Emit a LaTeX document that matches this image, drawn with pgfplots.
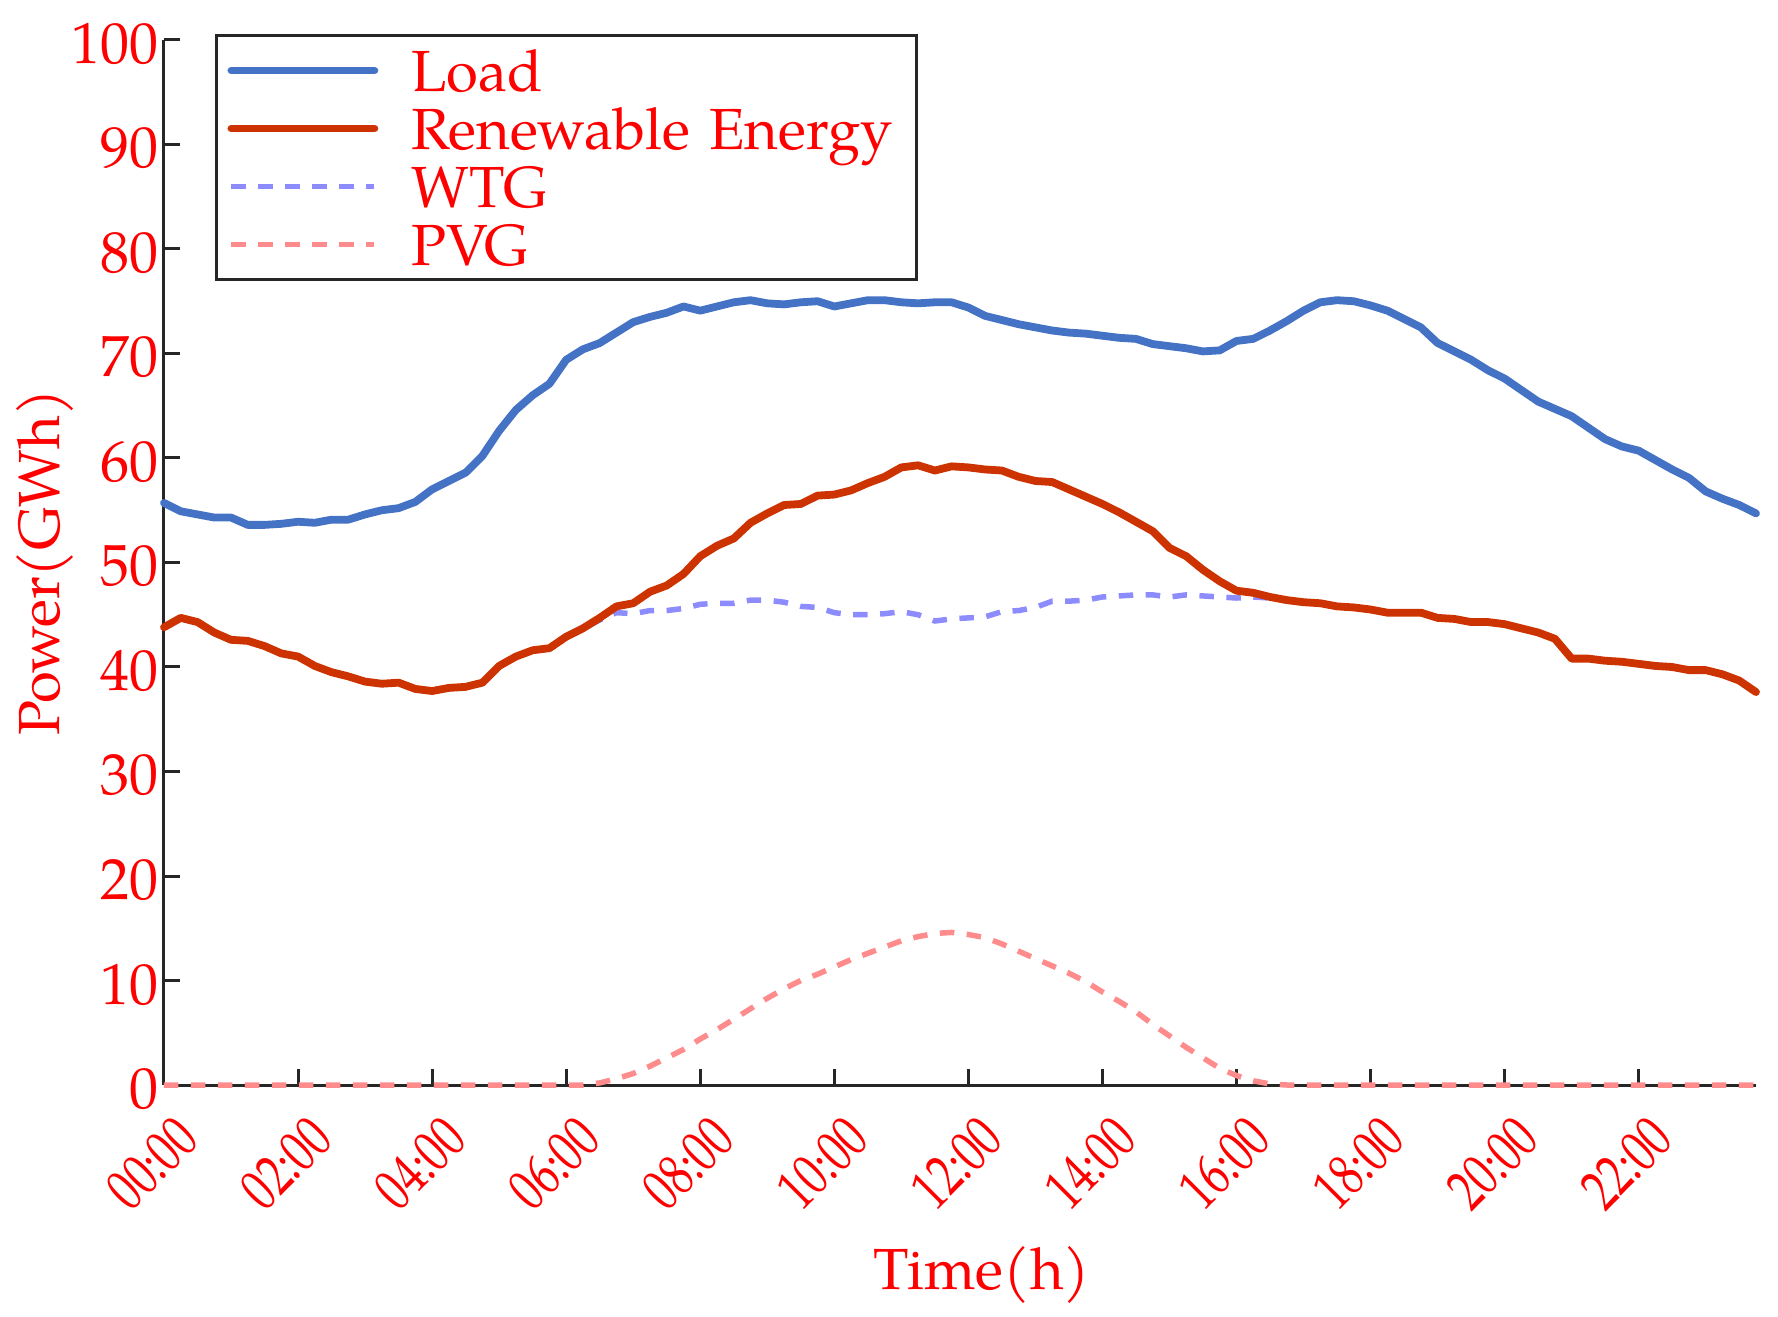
\documentclass[border=0pt]{standalone}
\usepackage{fontspec}
\setmainfont{TeX Gyre Pagella}
\newfontfamily\condfont[FakeStretch=0.76]{TeX Gyre Pagella}
\usepackage{pgfplots}
\pgfplotsset{compat=1.18}
\usepackage{pgfplotstable}
\definecolor{loadblue}{RGB}{68,114,196}
\definecolor{rered}{RGB}{204,51,0}
\definecolor{wtgc}{RGB}{140,140,255}
\definecolor{pvgc}{RGB}{255,140,140}
\definecolor{axisgray}{RGB}{38,38,38}
\definecolor{txtred}{RGB}{255,0,0}
\pgfplotstableread{
t load re wtg pvg
0 55.7 43.8 43.8 0
0.25 54.9 44.7 44.7 0
0.5 54.6 44.3 44.3 0
0.75 54.3 43.3 43.3 0
1 54.3 42.6 42.6 0
1.25 53.6 42.5 42.5 0
1.5 53.6 42.0 42.0 0
1.75 53.7 41.3 41.3 0
2 53.9 41.0 41.0 0
2.25 53.8 40.1 40.1 0
2.5 54.1 39.5 39.5 0
2.75 54.1 39.1 39.1 0
3 54.6 38.6 38.6 0
3.25 55.0 38.4 38.4 0
3.5 55.2 38.5 38.5 0
3.75 55.8 37.9 37.9 0
4 57.0 37.7 37.7 0
4.25 57.8 38.0 38.0 0
4.5 58.6 38.1 38.1 0
4.75 60.2 38.5 38.5 0
5 62.6 40.1 40.1 0
5.25 64.6 41.0 41.0 0
5.5 66.0 41.6 41.6 0
5.75 67.1 41.8 41.8 0
6 69.4 42.9 42.9 0
6.25 70.4 43.7 43.7 0
6.5 71.0 44.7 44.5 0.2
6.75 72.0 45.8 45.2 0.6
7 73.0 46.1 45.1 1.1
7.25 73.5 47.2 45.4 1.8
7.5 73.9 47.8 45.4 2.6
7.75 74.5 48.9 45.6 3.4
8 74.1 50.6 46.0 4.4
8.25 74.5 51.6 46.1 5.3
8.5 74.9 52.3 46.1 6.3
8.75 75.1 53.8 46.4 7.3
9 74.8 54.7 46.4 8.3
9.25 74.7 55.5 46.2 9.2
9.5 74.9 55.6 45.8 10.0
9.75 75.0 56.4 45.7 10.6
10 74.5 56.5 45.2 11.3
10.25 74.8 56.9 45.0 12.0
10.5 75.1 57.6 45.0 12.6
10.75 75.1 58.2 45.1 13.2
11 74.9 59.1 45.3 13.8
11.25 74.8 59.3 45.0 14.2
11.5 74.9 58.8 44.4 14.5
11.75 74.9 59.2 44.6 14.6
12 74.4 59.1 44.7 14.4
12.25 73.6 58.9 44.8 14.1
12.5 73.2 58.8 45.3 13.5
12.75 72.8 58.2 45.4 12.8
13 72.5 57.8 45.7 12.1
13.25 72.2 57.7 46.3 11.4
13.5 72.0 57.0 46.3 10.7
13.75 71.9 56.3 46.4 9.9
14 71.7 55.6 46.7 8.9
14.25 71.5 54.8 46.8 8.0
14.5 71.4 53.9 46.9 7.0
14.75 70.9 53.0 46.9 5.8
15 70.7 51.4 46.7 4.7
15.25 70.5 50.6 46.9 3.6
15.5 70.2 49.3 46.8 2.6
15.75 70.3 48.2 46.7 1.6
16 71.2 47.3 46.6 0.9
16.25 71.4 47.1 46.7 0.4
16.5 72.2 46.7 46.6 0.1
16.75 73.1 46.4 46.4 0
17 74.1 46.2 46.2 0
17.25 74.9 46.1 46.1 0
17.5 75.1 45.8 45.8 0
17.75 75.0 45.7 45.7 0
18 74.6 45.5 45.5 0
18.25 74.1 45.2 45.2 0
18.5 73.3 45.2 45.2 0
18.75 72.5 45.2 45.2 0
19 71.0 44.7 44.7 0
19.25 70.2 44.6 44.6 0
19.5 69.4 44.3 44.3 0
19.75 68.4 44.3 44.3 0
20 67.6 44.1 44.1 0
20.25 66.5 43.7 43.7 0
20.5 65.4 43.3 43.3 0
20.75 64.7 42.7 42.7 0
21 64.0 40.8 40.8 0
21.25 62.9 40.8 40.8 0
21.5 61.8 40.6 40.6 0
21.75 61.1 40.5 40.5 0
22 60.7 40.3 40.3 0
22.25 59.8 40.1 40.1 0
22.5 58.9 40.0 40.0 0
22.75 58.1 39.7 39.7 0
23 56.8 39.7 39.7 0
23.25 56.1 39.3 39.3 0
23.5 55.5 38.7 38.7 0
23.75 54.7 37.6 37.6 0
}\datatable
\newcommand{\bigfont}{\fontsize{16.5}{19.8}\selectfont}
\begin{document}
\bigfont
\begin{tikzpicture}
\begin{axis}[name=ax, scale only axis, width=159.2mm, height=104.5mm,
  xmin=0, xmax=23.75, ymin=0, ymax=100,
  axis x line=bottom, axis y line=left,
  axis line style={-, axisgray, line width=0.3mm},
  tick style={axisgray, line width=0.3mm},
  major tick length=1.6mm, tick align=inside,
  xtick={0,2,4,6,8,10,12,14,16,18,20,22},
  xticklabels={00:00,02:00,04:00,06:00,08:00,10:00,12:00,14:00,16:00,18:00,20:00,22:00},
  ytick={0,10,...,100},
  /pgf/number format/assume math mode=true,
  tick label style={text=txtred, font=\bigfont},
  yticklabel style={anchor=east, inner xsep=0pt, xshift=-0.5mm, yshift=-0.4mm},
  xticklabel style={font=\condfont\bigfont, inner sep=0pt, xshift=-1.2mm, yshift=-7.85mm, rotate=45, anchor=center},
  xlabel={Time(h)}, ylabel={Power(GWh)},
  every axis x label/.style={at={(axis description cs:0.5,0)}, xshift=2.2mm, yshift=-20.4mm, anchor=base},
  every axis y label/.style={at={(axis description cs:0,0.5)}, xshift=-10.4mm, rotate=90, anchor=base},
  label style={text=txtred, font=\bigfont},
  clip=false,
  legend style={at={(axis description cs:0,1)}, xshift=5.1mm, yshift=0.6mm, anchor=north west,
    draw=axisgray, line width=0.3mm, fill=white, inner xsep=1.1mm, inner ysep=1.4mm,
    row sep=1.6mm, column sep=0pt,
    nodes={inner sep=0pt, text height=4.2mm, text depth=0pt, text width=49.4mm, align=left, text=txtred, font=\bigfont},
    /tikz/every odd column/.append style={column sep=3.3mm}},
  legend cell align=left,
  legend image code/.code={\draw[#1] (0mm,0mm) -- (14.3mm,0mm);},
]
\addplot[wtgc, line width=0.55mm, dash pattern=on 1.45mm off 1.25mm, forget plot] table[x=t,y=wtg]{\datatable};
\addplot[loadblue, line width=0.78mm, line join=round, line cap=round] table[x=t,y=load]{\datatable};
\addlegendentry{Load}
\addplot[rered, line width=0.78mm, line join=round, line cap=round] table[x=t,y=re]{\datatable};
\addlegendentry{Renewable Energy}
\addlegendimage{wtgc, line width=0.55mm, dash pattern=on 1.45mm off 1.25mm}
\addlegendentry{WTG}
\addplot[pvgc, line width=0.55mm, dash pattern=on 1.45mm off 1.25mm] table[x=t,y=pvg]{\datatable};
\addlegendentry{PVG}
\end{axis}
\pgfresetboundingbox
\path ([xshift=-16.4mm,yshift=-23.1mm]ax.south west) rectangle ([xshift=2.2mm,yshift=4.0mm]ax.north east);
\end{tikzpicture}
\end{document}
